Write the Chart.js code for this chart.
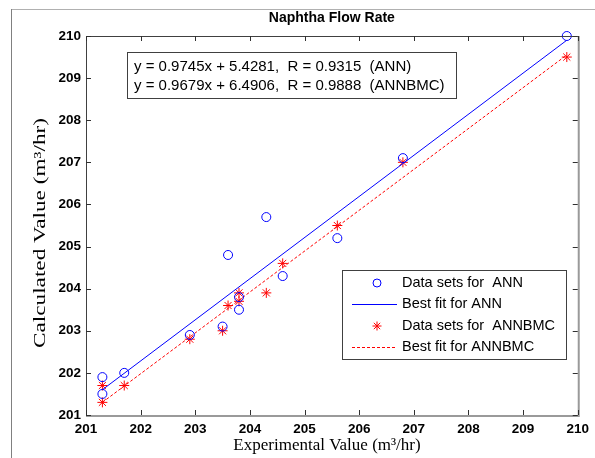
<!DOCTYPE html>
<html>
<head>
<meta charset="utf-8">
<script src="https://cdn.jsdelivr.net/npm/chart.js@4.4.0/dist/chart.umd.min.js"></script>
<style>
html,body{margin:0;padding:0;background:#fff;}
#wrap{width:595px;height:458px;position:relative;}
</style>
</head>
<body>
<div id="wrap"><canvas id="c" width="595" height="458"></canvas></div>
<script>
// ---- data ----
const annX = [201.3, 201.3, 201.7, 202.9, 203.5, 203.6, 203.8, 203.8, 204.3, 204.6, 205.6, 206.8, 209.8];
const annY = [201.9, 201.5, 202.0, 202.9, 203.1, 204.8, 203.8, 203.5, 205.7, 204.3, 205.2, 207.1, 210.0];
const bmcX = [201.3, 201.3, 201.7, 202.9, 203.5, 203.6, 203.8, 203.8, 204.3, 204.6, 205.6, 206.8, 209.8];
const bmcY = [201.7, 201.3, 201.7, 202.8, 203.0, 203.6, 203.9, 203.7, 203.9, 204.6, 205.5, 207.0, 209.5];
const annFitX = [201.3, 209.8];
const annFitY = [201.6, 209.9];
const bmcFitX = [201.3, 209.8];
const bmcFitY = [201.3, 209.55];
const xTicks = [201, 202, 203, 204, 205, 206, 207, 208, 209, 210];
const yTicks = [201, 202, 203, 204, 205, 206, 207, 208, 209, 210];
const titleText = 'Naphtha Flow Rate';
const xTitle = 'Experimental Value (m\u00B3/hr)';
const yTitle = 'Calculated Value (m\u00B3/hr)';
const eqLines = ['y = 0.9745x + 5.4281,  R = 0.9315  (ANN)', 'y = 0.9679x + 6.4906,  R = 0.9888  (ANNBMC)'];
const legendLabels = ['Data sets for  ANN', 'Best fit for ANN', 'Data sets for  ANNBMC', 'Best fit for ANNBMC'];

const pts = (xs, ys) => xs.map((x, i) => ({x: x, y: ys[i]}));
const BLUE = '#0000ff', RED = '#ff0000';
const SANS = '"Liberation Sans", Arial, sans-serif';

const deco = {
  id: 'deco',
  afterDraw(chart) {
    const ctx = chart.ctx, a = chart.chartArea;
    const xs = chart.scales.x, ys = chart.scales.y;
    ctx.save();
    ctx.setLineDash([]);
    // figure frame (top and left)
    ctx.strokeStyle = '#b0b0b0'; ctx.lineWidth = 1;
    ctx.beginPath(); ctx.moveTo(11, 9.5); ctx.lineTo(595, 9.5); ctx.stroke();
    ctx.strokeStyle = '#808080';
    ctx.beginPath(); ctx.moveTo(11.5, 9); ctx.lineTo(11.5, 458); ctx.stroke();
    // axes box
    ctx.strokeStyle = '#404040'; ctx.lineWidth = 1;
    ctx.beginPath();
    ctx.moveTo(a.left + 0.5, a.bottom); ctx.lineTo(a.left + 0.5, a.top + 0.5); ctx.lineTo(a.right, a.top + 0.5);
    ctx.stroke();
    ctx.strokeStyle = '#9a9a9a'; ctx.lineWidth = 2;
    ctx.beginPath();
    ctx.moveTo(a.right + 1, a.top); ctx.lineTo(a.right + 1, a.bottom + 1); ctx.lineTo(a.left, a.bottom + 1);
    ctx.stroke();
    // inward ticks
    ctx.strokeStyle = '#303030'; ctx.lineWidth = 1;
    const tl = 5;
    ctx.beginPath();
    xTicks.forEach(v => {
      const px = Math.round(xs.getPixelForValue(v)) + 0.5;
      ctx.moveTo(px, a.bottom); ctx.lineTo(px, a.bottom - tl);
      ctx.moveTo(px, a.top); ctx.lineTo(px, a.top + tl);
    });
    yTicks.forEach(v => {
      const py = Math.round(ys.getPixelForValue(v)) + 0.5;
      ctx.moveTo(a.left, py); ctx.lineTo(a.left + tl, py);
      ctx.moveTo(a.right, py); ctx.lineTo(a.right - tl, py);
    });
    ctx.stroke();
    // title
    ctx.fillStyle = '#000';
    ctx.font = 'bold 14px ' + SANS;
    ctx.textAlign = 'center'; ctx.textBaseline = 'middle';
    ctx.fillText(titleText, (a.left + a.right) / 2, 18);
    // x title
    ctx.font = '17px "Liberation Serif", "Times New Roman", serif';
    ctx.textBaseline = 'alphabetic';
    ctx.fillText(xTitle, 327, 450);
    // y title (stretched like reference)
    ctx.save();
    ctx.translate(45, 233);
    ctx.rotate(-Math.PI / 2);
    ctx.font = '16px "Liberation Serif", "Times New Roman", serif';
    const w = ctx.measureText(yTitle).width;
    ctx.scale(230 / w, 1);
    ctx.fillText(yTitle, 0, 0);
    ctx.restore();
    // equation box
    ctx.fillStyle = '#fff';
    ctx.fillRect(127, 52, 329, 46);
    ctx.strokeStyle = '#404040'; ctx.lineWidth = 1;
    ctx.strokeRect(127.5, 52.5, 329, 46);
    ctx.fillStyle = '#000';
    ctx.font = '15px ' + SANS;
    ctx.textAlign = 'left'; ctx.textBaseline = 'middle';
    ctx.fillText(eqLines[0], 134, 67);
    ctx.fillText(eqLines[1], 134, 86);
    // legend
    ctx.fillStyle = '#fff';
    ctx.fillRect(342, 270, 224, 89);
    ctx.strokeStyle = '#404040';
    ctx.strokeRect(342.5, 270.5, 224, 89);
    const rows = [283, 304, 326, 347];
    const mx = 377;
    // row 0: circle
    ctx.strokeStyle = BLUE; ctx.lineWidth = 1;
    ctx.beginPath(); ctx.arc(mx, rows[0], 4, 0, Math.PI * 2); ctx.stroke();
    // row 1: solid line
    ctx.fillStyle = BLUE;
    ctx.fillRect(352, rows[1], 45, 1);
    // row 2: star
    ctx.strokeStyle = RED;
    ctx.beginPath();
    const r = 4.5;
    ctx.moveTo(mx - r, rows[2]); ctx.lineTo(mx + r, rows[2]);
    ctx.moveTo(mx, rows[2] - r); ctx.lineTo(mx, rows[2] + r);
    const d = r * 0.7071;
    ctx.moveTo(mx - d, rows[2] - d); ctx.lineTo(mx + d, rows[2] + d);
    ctx.moveTo(mx - d, rows[2] + d); ctx.lineTo(mx + d, rows[2] - d);
    ctx.stroke();
    // row 3: dashed (explicit red dashes)
    ctx.fillStyle = RED;
    for (let x = 352; x < 397; x += 5) ctx.fillRect(x, rows[3], 3, 1);
    ctx.fillStyle = '#000';
    ctx.font = '14.5px ' + SANS;
    legendLabels.forEach((t, i) => ctx.fillText(t, 402, rows[i]));
    ctx.restore();
  }
};

new Chart(document.getElementById('c'), {
  type: 'scatter',
  data: {
    datasets: [
      {label: legendLabels[0], data: pts(annX, annY), showLine: false, pointStyle: 'circle', pointRadius: 4.5,
       borderColor: BLUE, backgroundColor: 'rgba(0,0,0,0)', pointBorderWidth: 1, clip: false},
      {label: legendLabels[1], data: pts(annFitX, annFitY), showLine: true, pointRadius: 0, borderColor: BLUE,
       borderWidth: 1, clip: false},
      {label: legendLabels[2], data: pts(bmcX, bmcY), showLine: false, pointStyle: 'star', pointRadius: 5,
       borderColor: RED, backgroundColor: RED, pointBorderWidth: 1, clip: false},
      {label: legendLabels[3], data: pts(bmcFitX, bmcFitY), showLine: true, pointRadius: 0, borderColor: RED,
       borderWidth: 1, borderDash: [3, 2], clip: false}
    ]
  },
  options: {
    responsive: false,
    animation: false,
    events: [],
    layout: {padding: {top: 36, right: 15, left: 0, bottom: 0}},
    plugins: {legend: {display: false}, title: {display: false}, tooltip: {enabled: false}},
    scales: {
      x: {
        type: 'linear', min: 201, max: 210,
        afterBuildTicks: s => { s.ticks = xTicks.map(v => ({value: v})); },
        afterFit: s => { s.height = 43; },
        grid: {display: false, drawTicks: false},
        border: {display: false},
        ticks: {padding: 6, color: '#000', font: {family: SANS, size: 13.5, weight: 'bold'},
                maxRotation: 0, autoSkip: false}
      },
      y: {
        type: 'linear', min: 201, max: 210,
        afterBuildTicks: s => { s.ticks = yTicks.map(v => ({value: v})); },
        afterFit: s => { s.width = 86; },
        grid: {display: false, drawTicks: false},
        border: {display: false},
        ticks: {padding: 5, color: '#000', font: {family: SANS, size: 13.5, weight: 'bold'},
                autoSkip: false}
      }
    }
  },
  plugins: [deco]
});
</script>
</body>
</html>
